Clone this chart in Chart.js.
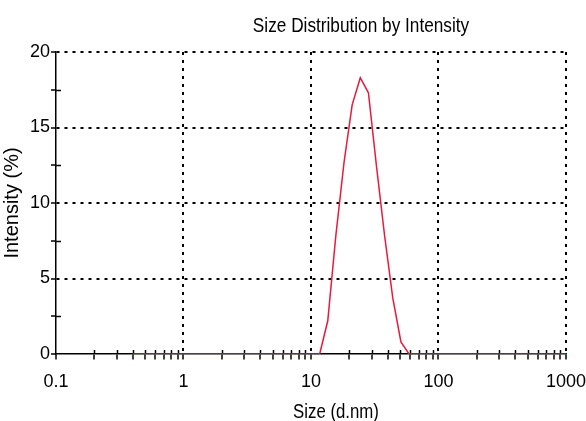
<!DOCTYPE html>
<html>
<head>
<meta charset="utf-8">
<script src="https://cdn.jsdelivr.net/npm/chart.js@4/dist/chart.umd.min.js"></script>
<style>
  html, body { margin: 0; padding: 0; background: #fff; }
  #wrap { width: 586px; height: 421px; position: relative; }
</style>
</head>
<body>
<div id="wrap"><canvas id="sizeChart"></canvas></div>
<script>
// size classes (d.nm)
const sizes = [
  0.4, 0.4632, 0.5365, 0.6213, 0.7195, 0.8332, 0.9649,
  1.117, 1.294, 1.499, 1.736, 2.010, 2.328, 2.696, 3.122, 3.615, 4.187, 4.849, 5.615, 6.503, 7.531, 8.721,
  10.10, 11.70, 13.54, 15.69, 18.17, 21.04, 24.36, 28.21, 32.67, 37.84, 43.82, 50.75, 58.77, 68.06, 78.82, 91.28,
  105.7, 122.4, 141.8, 164.2, 190.1, 220.2, 255.0, 295.3, 342.0, 396.1, 458.7, 531.2, 615.1, 712.4, 825.0, 955.4,
  1106
];
// intensity (%) for each size class
const intensity = [
  0, 0, 0, 0, 0, 0, 0,
  0, 0, 0, 0, 0, 0, 0, 0, 0, 0, 0, 0, 0, 0, 0,
  0, 0, 2.2, 7.9, 12.7, 16.5, 18.3, 17.3, 12.4, 7.8, 3.7, 0.8, 0, 0, 0, 0,
  0, 0, 0, 0, 0, 0, 0, 0, 0, 0, 0, 0, 0, 0, 0, 0,
  0
];

const xDecades = [0.1, 1, 10, 100, 1000];
const xTickLabels = ['0.1', '1', '10', '100', '1000'];
const xMinorSteps = [2, 3, 4, 5, 6, 7, 8, 9];
const yTicks = [0, 2.5, 5, 7.5, 10, 12.5, 15, 17.5, 20];
const yTickLabels = ['0', '5', '10', '15', '20'];

const chartTitle = 'Size Distribution by Intensity';
const xAxisTitle = 'Size (d.nm)';
const yAxisTitle = 'Intensity (%)';

const SANS = "'Liberation Sans', Arial, sans-serif";

// every decade plus its 2..9 multiples
const xTickValues = [];
xDecades.forEach((d, i) => {
  xTickValues.push(d);
  if (i < xDecades.length - 1) xMinorSteps.forEach(m => xTickValues.push(+(d * m).toPrecision(6)));
});

const isDecade = v => xDecades.includes(v);
const isMajorY = v => v % 5 === 0;

// narrow-looking text: squeeze horizontally around its centre
function narrowText(ctx, text, cx, baseline, size, squeeze) {
  ctx.save();
  ctx.font = size + 'px ' + SANS;
  ctx.textAlign = 'center';
  ctx.textBaseline = 'alphabetic';
  ctx.fillStyle = '#000';
  ctx.translate(cx, baseline);
  ctx.scale(squeeze, 1);
  ctx.fillText(text, 0, 0);
  ctx.restore();
}

// short marks poking into the plot for the minor ticks, plus the free-standing texts
const extras = {
  id: 'extras',
  beforeDatasetsDraw(chart) {
    const { ctx, scales: { x, y } } = chart;
    ctx.save();
    ctx.strokeStyle = '#000';
    ctx.lineWidth = 1.5;
    ctx.beginPath();
    x.ticks.forEach(t => {
      if (isDecade(t.value)) return;
      const px = Math.round(x.getPixelForValue(t.value)) + 0.5;
      ctx.moveTo(px, y.bottom);
      ctx.lineTo(px, y.bottom - 4);
    });
    y.ticks.forEach(t => {
      if (isMajorY(t.value)) return;
      const py = Math.round(y.getPixelForValue(t.value)) + 0.5;
      ctx.moveTo(x.left, py);
      ctx.lineTo(x.left + 5, py);
    });
    ctx.stroke();
    ctx.restore();
  },
  afterDraw(chart) {
    const { ctx } = chart;
    narrowText(ctx, chartTitle, 361, 32, 21, 0.82);
    narrowText(ctx, xAxisTitle, 336, 418, 20, 0.84);
  }
};

new Chart(document.getElementById('sizeChart'), {
  type: 'line',
  data: {
    datasets: [{
      data: sizes.map((s, i) => ({ x: s, y: intensity[i] })),
      borderColor: '#e8193c',
      borderWidth: 1.5,
      pointRadius: 0,
      tension: 0,
      fill: false
    }]
  },
  options: {
    responsive: true,
    maintainAspectRatio: false,
    animation: false,
    layout: { padding: { top: 52, right: 17, left: 0, bottom: 0 } },
    plugins: {
      legend: { display: false },
      tooltip: { enabled: false },
      title: { display: false }
    },
    scales: {
      x: {
        type: 'logarithmic',
        min: 0.1,
        max: 1000,
        afterBuildTicks: scale => {
          scale.ticks = xTickValues.map(v => ({ value: v, major: isDecade(v) }));
        },
        afterFit: scale => {
          scale.height = 67;
        },
        ticks: {
          autoSkip: false,
          maxRotation: 0,
          padding: 0,
          color: '#000',
          font: { family: SANS, size: 18 },
          callback: v => isDecade(v) ? xTickLabels[xDecades.indexOf(v)] : ''
        },
        grid: {
          color: c => (c.tick && isDecade(c.tick.value) && c.tick.value !== 0.1) ? '#000' : 'rgba(0,0,0,0)',
          lineWidth: 2,
          tickColor: '#000',
          tickWidth: 1.5,
          // long tick slot keeps the labels low; the dash draws only the first 5px
          tickLength: 17,
          tickBorderDash: [5, 40]
        },
        border: { display: true, color: '#000', width: 1.5, dash: [3, 5] }
      },
      y: {
        type: 'linear',
        min: 0,
        max: 20,
        afterBuildTicks: scale => {
          scale.ticks = yTicks.map(v => ({ value: v }));
        },
        afterFit: scale => {
          scale.width = 56;
        },
        ticks: {
          padding: 1,
          color: '#000',
          font: { family: SANS, size: 18 },
          callback: v => isMajorY(v) ? yTickLabels[v / 5] : ''
        },
        grid: {
          color: c => (c.tick && isMajorY(c.tick.value) && c.tick.value !== 0) ? '#000' : 'rgba(0,0,0,0)',
          lineWidth: 2,
          tickColor: '#000',
          tickWidth: 1.5,
          tickLength: 5
        },
        border: { display: true, color: '#000', width: 1.5, dash: [3, 5] },
        title: {
          display: true,
          text: yAxisTitle,
          color: '#000',
          font: { family: SANS, size: 20 },
          padding: { top: 0, bottom: 0 }
        }
      }
    }
  },
  plugins: [extras]
});
</script>
</body>
</html>
